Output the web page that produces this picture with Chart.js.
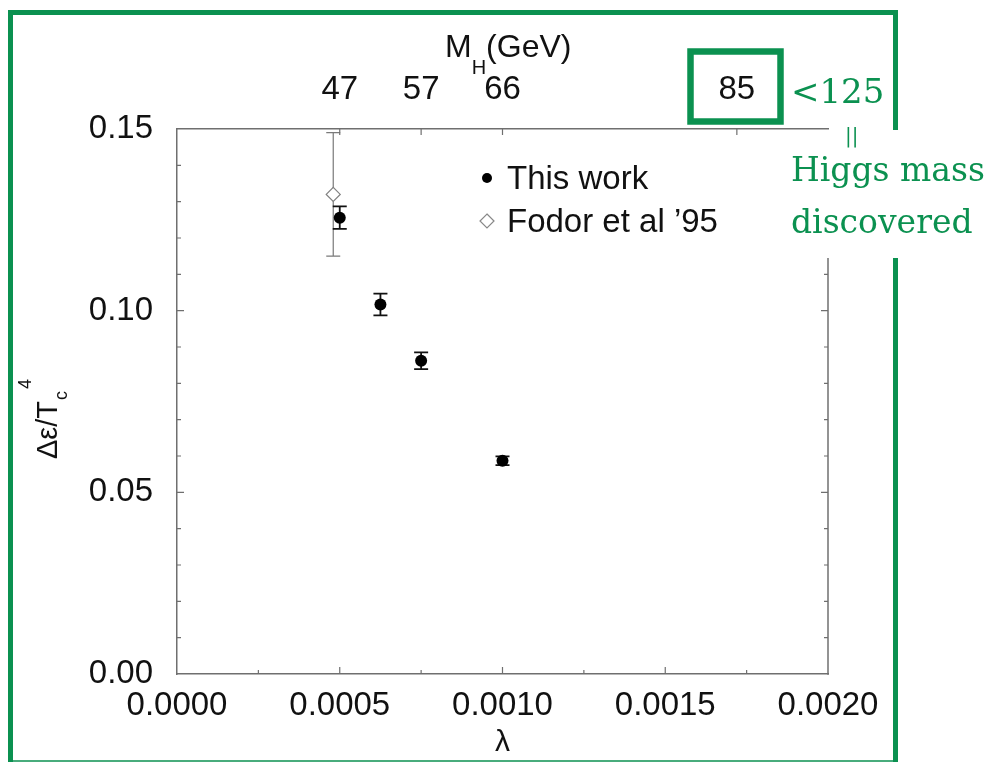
<!DOCTYPE html>
<html>
<head>
<meta charset="utf-8">
<title>Latent heat vs lambda</title>
<script src="https://cdn.jsdelivr.net/npm/chart.js@4.4.1/dist/chart.umd.min.js"></script>
<style>
  html, body { margin: 0; padding: 0; background: #fff; }
  #wrap { position: relative; width: 987px; height: 762px; }
</style>
</head>
<body>
<div id="wrap"><canvas id="higgsChart" width="987" height="762"></canvas></div>
<script>
// data
const thisWorkLambda = [0.0005, 0.000625, 0.00075, 0.001];
const thisWorkEps = [0.1256, 0.1017, 0.0862, 0.0587];
const thisWorkErr = [0.0031, 0.0030, 0.0023, 0.0012];

const fodorLambda = [0.00048];
const fodorEps = [0.132];
const fodorErr = [0.017];

const xTicks = [0, 0.0005, 0.001, 0.0015, 0.002];
const yTicks = [0, 0.05, 0.10, 0.15];
const massLambda = [0.0005, 0.00075, 0.001, 0.00172];
const massLabels = ['47', '57', '66', '85'];

const GREEN = '#0b9150';
const AXIS_GREY = '#6f6f6f';
const SANS = '"Liberation Sans", Arial, Helvetica, sans-serif';
const SERIF = '"DejaVu Serif", serif';

function drawErrorBars(chart, xs, ys, errs, color, width) {
    const { ctx, scales: { x, y } } = chart;
    ctx.save();
    ctx.strokeStyle = color;
    ctx.lineWidth = width;
    xs.forEach((lv, i) => {
        const px = x.getPixelForValue(lv);
        const top = y.getPixelForValue(ys[i] + errs[i]);
        const bot = y.getPixelForValue(ys[i] - errs[i]);
        ctx.beginPath();
        ctx.moveTo(px, top); ctx.lineTo(px, bot);
        ctx.moveTo(px - 7, top); ctx.lineTo(px + 7, top);
        ctx.moveTo(px - 7, bot); ctx.lineTo(px + 7, bot);
        ctx.stroke();
    });
    ctx.restore();
}

function drawTicks(chart) {
    const { ctx, chartArea: a, scales: { x, y } } = chart;
    const rightStart = 258; // right frame hidden behind the note above this
    ctx.save();
    ctx.strokeStyle = AXIS_GREY;
    ctx.lineWidth = 1.2;
    ctx.beginPath();
    // bottom: major every 0.0005, minor every 0.00025
    for (let k = 1; k < 8; k++) {
        const px = x.getPixelForValue(k * 0.00025);
        const len = k % 2 === 0 ? 7 : 4;
        ctx.moveTo(px, a.bottom); ctx.lineTo(px, a.bottom - len);
    }
    // top: Higgs mass positions
    massLambda.forEach(v => {
        const px = x.getPixelForValue(v);
        ctx.moveTo(px, a.top); ctx.lineTo(px, a.top + 6);
    });
    // left / right: every 0.01
    for (let k = 1; k < 15; k++) {
        const py = y.getPixelForValue(k * 0.01);
        const len = k % 5 === 0 ? 7 : 4;
        ctx.moveTo(a.left, py); ctx.lineTo(a.left + len, py);
        if (py > rightStart) {
            ctx.moveTo(a.right, py); ctx.lineTo(a.right - len, py);
        }
    }
    ctx.stroke();
    // right frame, only below the note
    ctx.lineWidth = 1.5;
    ctx.beginPath();
    ctx.moveTo(a.right, rightStart);
    ctx.lineTo(a.right, a.bottom + 0.75);
    ctx.stroke();
    ctx.restore();
}

function drawLegend(ctx) {
    ctx.save();
    ctx.fillStyle = '#000';
    ctx.beginPath();
    ctx.arc(487, 178, 5, 0, Math.PI * 2);
    ctx.fill();
    ctx.strokeStyle = '#888';
    ctx.lineWidth = 1.2;
    ctx.fillStyle = '#fff';
    ctx.beginPath();
    ctx.moveTo(487, 214); ctx.lineTo(494, 221); ctx.lineTo(487, 228); ctx.lineTo(480, 221);
    ctx.closePath();
    ctx.fill(); ctx.stroke();
    ctx.fillStyle = '#111';
    ctx.font = '33px ' + SANS;
    ctx.textBaseline = 'alphabetic';
    ctx.textAlign = 'left';
    ctx.fillText('This work', 507, 189);
    ctx.fillText('Fodor et al \u201995', 507, 232);
    ctx.restore();
}

function drawAxisTitles(ctx) {
    ctx.save();
    ctx.fillStyle = '#111';
    ctx.textBaseline = 'alphabetic';
    ctx.textAlign = 'left';
    // top title  M_H(GeV)
    ctx.font = '32px ' + SANS;
    ctx.fillText('M', 445, 57);
    let xx = 445 + ctx.measureText('M').width;
    ctx.font = '20px ' + SANS;
    ctx.fillText('H', xx, 74);
    xx += ctx.measureText('H').width;
    ctx.font = '32px ' + SANS;
    ctx.fillText('(GeV)', xx, 57);

    // y title  Δε/T_c^4 rotated
    ctx.translate(57, 459);
    ctx.rotate(-Math.PI / 2);
    ctx.font = '29px ' + SANS;
    ctx.fillText('\u0394\u03b5/T', 0, 0);
    const w = ctx.measureText('\u0394\u03b5/T').width;
    ctx.font = '18px ' + SANS;
    ctx.fillText('c', w + 1, 10);
    ctx.fillText('4', w + 12, -26);
    ctx.restore();
}

function drawNote(ctx) {
    ctx.save();
    ctx.strokeStyle = GREEN;
    ctx.fillStyle = GREEN;
    // outer frame
    ctx.lineWidth = 5;
    ctx.beginPath();
    ctx.moveTo(10.5, 762); ctx.lineTo(10.5, 12.5); ctx.lineTo(895.5, 12.5); ctx.lineTo(895.5, 130);
    ctx.moveTo(895.5, 258); ctx.lineTo(895.5, 762);
    ctx.stroke();
    ctx.lineWidth = 1.5;
    ctx.beginPath();
    ctx.moveTo(10, 761); ctx.lineTo(896, 761);
    ctx.stroke();
    // box round 85
    ctx.lineWidth = 6.5;
    ctx.strokeRect(690.5, 51.5, 90, 70);
    // text
    ctx.textAlign = 'left';
    ctx.textBaseline = 'alphabetic';
    ctx.font = '34px ' + SERIF;
    ctx.fillText('<125', 791, 103);
    ctx.font = '20px ' + SERIF;
    ctx.fillText('||', 845, 142);
    ctx.font = '33px ' + SERIF;
    ctx.fillText('Higgs mass', 791, 181);
    ctx.fillText('discovered', 791, 233);
    ctx.restore();
}

const decor = {
    id: 'decor',
    beforeDatasetsDraw(chart) {
        drawErrorBars(chart, fodorLambda, fodorEps, fodorErr, '#7a7a7a', 1.2);
        drawErrorBars(chart, thisWorkLambda, thisWorkEps, thisWorkErr, '#111', 1.8);
    },
    afterDraw(chart) {
        const ctx = chart.ctx;
        drawTicks(chart);
        drawLegend(ctx);
        drawAxisTitles(ctx);
        drawNote(ctx);
    }
};

const tickFont = { family: SANS, size: 33 };

new Chart(document.getElementById('higgsChart'), {
    type: 'scatter',
    data: {
        datasets: [{
            label: 'This work',
            data: thisWorkLambda.map((v, i) => ({ x: v, y: thisWorkEps[i] })),
            pointStyle: 'circle',
            pointRadius: 6,
            backgroundColor: '#000',
            borderColor: '#000',
            borderWidth: 0
        }, {
            label: 'Fodor et al \u201995',
            data: fodorLambda.map((v, i) => ({ x: v, y: fodorEps[i] })),
            pointStyle: 'rectRot',
            pointRadius: 7,
            backgroundColor: '#fff',
            borderColor: '#808080',
            borderWidth: 1.2
        }]
    },
    options: {
        responsive: false,
        animation: false,
        devicePixelRatio: 1,
        layout: { padding: { left: 0, right: 159, top: 0, bottom: 0 } },
        plugins: {
            legend: { display: false },
            tooltip: { enabled: false }
        },
        scales: {
            x: {
                type: 'linear',
                position: 'bottom',
                min: 0,
                max: 0.002,
                afterBuildTicks: s => { s.ticks = xTicks.map(v => ({ value: v })); },
                afterFit: s => { s.height = 88; },
                grid: { display: false, drawTicks: false },
                border: { display: true, color: AXIS_GREY, width: 1.5 },
                ticks: {
                    callback: v => v.toFixed(4),
                    font: tickFont,
                    color: '#111',
                    padding: 12,
                    maxRotation: 0,
                    autoSkip: false
                },
                title: {
                    display: true,
                    text: '\u03bb',
                    font: { family: SANS, size: 30 },
                    color: '#111',
                    padding: { top: 0, bottom: 1 }
                }
            },
            x2: {
                type: 'linear',
                position: 'top',
                min: 0,
                max: 0.002,
                afterBuildTicks: s => { s.ticks = massLambda.map(v => ({ value: v })); },
                afterFit: s => { s.height = 129; },
                grid: { display: false, drawTicks: false },
                border: { display: true, color: AXIS_GREY, width: 1.5 },
                ticks: {
                    callback: (v, i) => massLabels[i],
                    font: tickFont,
                    color: '#111',
                    padding: 19,
                    maxRotation: 0,
                    autoSkip: false
                }
            },
            y: {
                type: 'linear',
                position: 'left',
                min: 0,
                max: 0.15,
                afterBuildTicks: s => { s.ticks = yTicks.map(v => ({ value: v })); },
                afterFit: s => { s.width = 177; },
                grid: { display: false, drawTicks: false },
                border: { display: true, color: AXIS_GREY, width: 1.5 },
                ticks: {
                    callback: v => v.toFixed(2),
                    font: tickFont,
                    color: '#111',
                    padding: 24
                }
            }
        }
    },
    plugins: [decor]
});
</script>
</body>
</html>
